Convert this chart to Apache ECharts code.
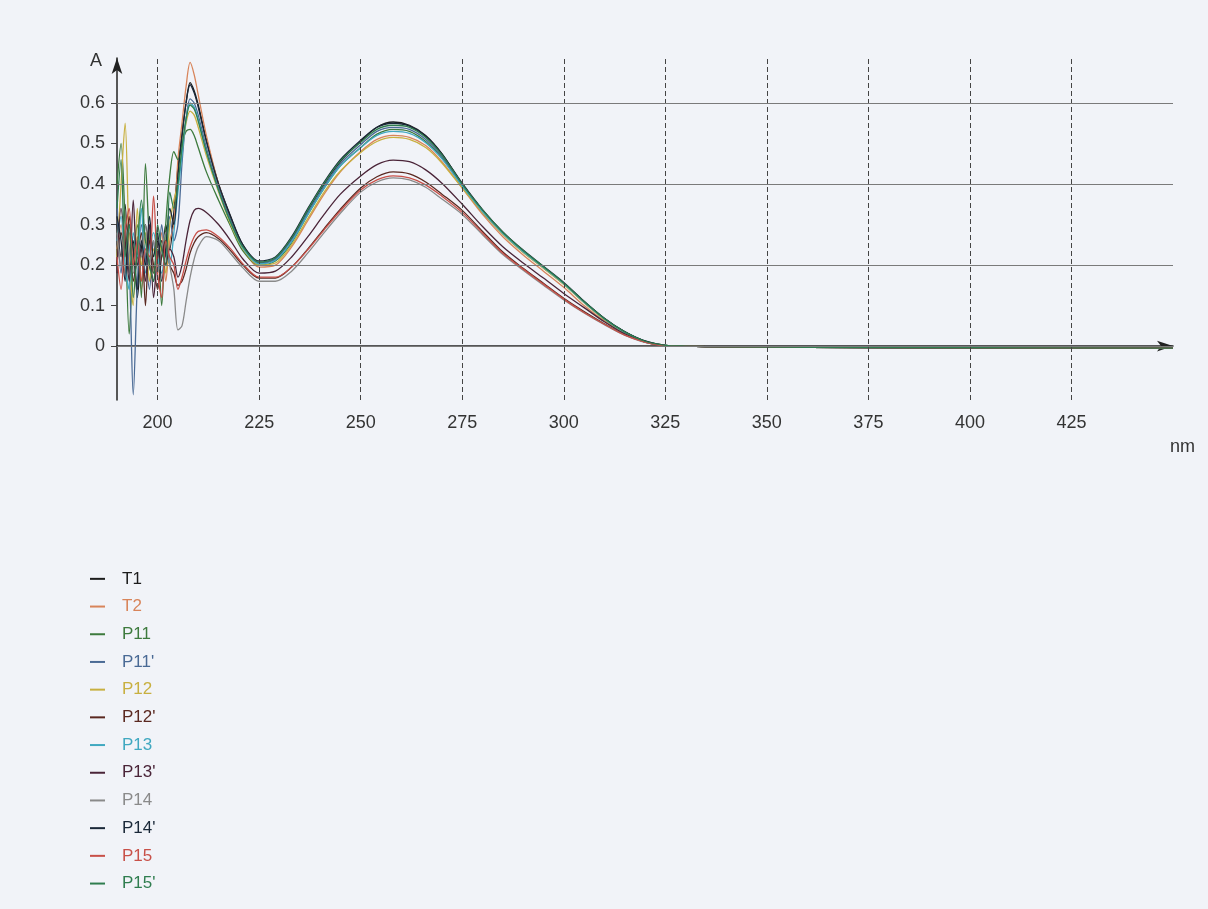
<!DOCTYPE html>
<html>
<head>
<meta charset="utf-8">
<script src="https://cdn.jsdelivr.net/npm/echarts@6/dist/echarts.min.js"></script>
<style>
  html, body { margin: 0; padding: 0; background: #f1f3f8; }
  #main { width: 1208px; height: 909px; }
</style>
</head>
<body>
<div id="main"></div>
<script>
// wavelength (nm) shared by every curve
const wavelength = [190,191,192,193,194,195,196,197,198,199,200,201,202,203,204,205,206,207,208,209,210,
  212,215,218,221,225,229,233,237,241,245,250,254,258,262,266,270,275,280,285,290,295,300,305,310,315,320,325,330,340,360,400,450];

// absorbance
const T1 = [0.30,0.22,0.35,0.18,0.26,0.12,0.24,0.30,0.20,0.16,0.26,0.22,0.30,0.24,0.33,0.44,0.52,0.60,0.65,0.63,0.595,
  0.51,0.40,0.32,0.25,0.205,0.215,0.265,0.335,0.40,0.455,0.505,0.54,0.553,0.545,0.52,0.475,0.40,0.335,0.28,0.235,0.195,0.155,0.11,0.068,0.035,0.012,0.002,0,-0.002,-0.003,-0.004,-0.005];
const T2 = [0.24,0.30,0.18,0.28,0.22,0.27,0.14,0.22,0.30,0.18,0.20,0.28,0.16,0.26,0.30,0.46,0.55,0.64,0.70,0.67,0.62,
  0.52,0.40,0.31,0.24,0.195,0.20,0.245,0.31,0.375,0.43,0.48,0.51,0.52,0.515,0.495,0.455,0.39,0.325,0.27,0.225,0.185,0.145,0.10,0.062,0.032,0.011,0.002,0,-0.002,-0.003,-0.004,-0.005];
const P11 = [0.40,0.50,0.30,0.03,0.22,0.30,0.12,0.45,0.26,0.18,0.24,0.10,0.30,0.42,0.48,0.46,0.50,0.53,0.535,0.52,0.49,
  0.43,0.36,0.295,0.235,0.20,0.21,0.255,0.325,0.39,0.445,0.49,0.523,0.535,0.53,0.505,0.465,0.395,0.33,0.277,0.232,0.193,0.153,0.108,0.066,0.034,0.012,0.002,0,-0.002,-0.003,-0.004,-0.005];
const P11b = [0.36,0.18,0.28,0.20,-0.12,0.15,0.30,0.22,0.14,0.26,0.18,0.30,0.22,0.32,0.26,0.30,0.45,0.56,0.61,0.60,0.57,
  0.49,0.39,0.31,0.245,0.205,0.215,0.262,0.33,0.395,0.45,0.497,0.53,0.54,0.535,0.51,0.468,0.398,0.333,0.279,0.234,0.194,0.154,0.109,0.067,0.035,0.012,0.002,0,-0.002,-0.003,-0.004,-0.005];
const P12 = [0.22,0.40,0.55,0.24,0.10,0.34,0.20,0.28,0.16,0.24,0.20,0.26,0.18,0.30,0.36,0.40,0.48,0.55,0.58,0.57,0.54,
  0.47,0.38,0.30,0.24,0.20,0.205,0.25,0.315,0.38,0.432,0.478,0.505,0.515,0.51,0.49,0.452,0.39,0.33,0.276,0.231,0.192,0.152,0.107,0.066,0.034,0.012,0.002,0,-0.002,-0.003,-0.004,-0.005];
const P12b = [0.20,0.28,0.24,0.32,0.16,0.22,0.28,0.10,0.26,0.20,0.14,0.22,0.26,0.20,0.18,0.15,0.16,0.19,0.23,0.255,0.27,
  0.28,0.265,0.235,0.20,0.168,0.168,0.195,0.24,0.29,0.338,0.39,0.418,0.43,0.425,0.405,0.375,0.335,0.283,0.232,0.192,0.155,0.118,0.085,0.055,0.028,0.01,0.001,0,-0.002,-0.003,-0.004,-0.005];
const P13 = [0.26,0.32,0.20,0.14,0.28,0.22,0.34,0.18,0.24,0.28,0.22,0.18,0.24,0.20,0.28,0.38,0.47,0.56,0.60,0.59,0.56,
  0.48,0.385,0.305,0.242,0.203,0.212,0.258,0.325,0.39,0.445,0.49,0.52,0.53,0.525,0.502,0.462,0.395,0.332,0.278,0.233,0.194,0.154,0.108,0.067,0.034,0.012,0.002,0,-0.002,-0.003,-0.004,-0.005];
const P13b = [0.18,0.34,0.26,0.16,0.36,0.20,0.24,0.16,0.30,0.12,0.22,0.26,0.20,0.24,0.22,0.17,0.20,0.26,0.31,0.335,0.34,
  0.33,0.30,0.26,0.215,0.18,0.185,0.22,0.27,0.325,0.375,0.42,0.448,0.459,0.455,0.435,0.402,0.35,0.295,0.245,0.205,0.168,0.13,0.095,0.06,0.03,0.01,0.001,0,-0.002,-0.003,-0.004,-0.005];
const P14 = [0.28,0.20,0.30,0.24,0.18,0.26,0.22,0.30,0.20,0.26,0.18,0.24,0.28,0.20,0.14,0.04,0.05,0.11,0.17,0.215,0.245,
  0.27,0.26,0.228,0.193,0.16,0.16,0.185,0.23,0.28,0.328,0.38,0.405,0.415,0.41,0.392,0.363,0.325,0.275,0.226,0.187,0.15,0.114,0.082,0.053,0.027,0.009,0.001,0,-0.002,-0.003,-0.004,-0.005];
const P14b = [0.32,0.26,0.16,0.30,0.24,0.14,0.26,0.20,0.32,0.22,0.28,0.16,0.24,0.34,0.30,0.42,0.52,0.60,0.645,0.625,0.59,
  0.505,0.40,0.318,0.25,0.21,0.22,0.27,0.34,0.405,0.46,0.508,0.54,0.55,0.543,0.518,0.474,0.402,0.337,0.282,0.237,0.197,0.157,0.111,0.069,0.036,0.013,0.002,0,-0.002,-0.003,-0.004,-0.005];
const P15 = [0.22,0.14,0.28,0.34,0.20,0.26,0.16,0.24,0.22,0.37,0.18,0.12,0.26,0.22,0.20,0.14,0.17,0.21,0.245,0.27,0.283,
  0.287,0.27,0.24,0.203,0.17,0.17,0.195,0.238,0.287,0.334,0.385,0.41,0.42,0.415,0.398,0.37,0.33,0.279,0.229,0.19,0.153,0.116,0.083,0.054,0.027,0.01,0.001,0,-0.002,-0.003,-0.004,-0.005];
const P15b = [0.34,0.46,0.22,0.30,0.12,0.24,0.36,0.26,0.20,0.16,0.30,0.24,0.20,0.38,0.34,0.40,0.49,0.56,0.595,0.585,0.555,
  0.48,0.385,0.305,0.245,0.207,0.218,0.267,0.337,0.402,0.457,0.503,0.535,0.545,0.54,0.515,0.472,0.40,0.336,0.281,0.236,0.196,0.156,0.11,0.068,0.035,0.012,0.002,0,-0.002,-0.003,-0.004,-0.005];

const names = ['T1', 'T2', 'P11', "P11'", 'P12', "P12'", 'P13', "P13'", 'P14', "P14'", 'P15', "P15'"];
const values = [T1, T2, P11, P11b, P12, P12b, P13, P13b, P14, P14b, P15, P15b];
const colors = ['#1c1c1c', '#d8845a', '#3d7a3d', '#4a6a95', '#c8b040', '#5a2820',
                '#40a8c0', '#4a2438', '#8a8a8a', '#1a2838', '#c85048', '#2f7d4f'];

const xTicks = [200, 225, 250, 275, 300, 325, 350, 375, 400, 425];
const yTicks = [0, 0.1, 0.2, 0.3, 0.4, 0.5, 0.6];
const yGrid = [0, 0.2, 0.4, 0.6];

var myChart = echarts.init(document.getElementById('main'));

var series = names.map(function (n, i) {
  return {
    name: n,
    type: 'line',
    showSymbol: false,
    smooth: 0.3,
    z: 3,
    lineStyle: { width: 1.3, color: colors[i] },
    itemStyle: { color: colors[i] },
    data: wavelength.map(function (w, k) { return [w, values[i][k]]; })
  };
});

// grid lines (dashed verticals, solid horizontals)
series.unshift({
  name: 'grid',
  type: 'line',
  data: [],
  z: 1,
  markLine: {
    silent: true,
    symbol: ['none', 'none'],
    label: { show: false },
    animation: false,
    data: xTicks.map(function (v) {
      return { xAxis: v, lineStyle: { color: '#444', width: 1, type: [5, 3] } };
    }).concat(yGrid.map(function (v) {
      return { yAxis: v, lineStyle: { color: '#7a7a7a', width: 1.2, type: 'solid' } };
    }))
  }
});

var option = {
  backgroundColor: '#f1f3f8',
  animation: false,
  textStyle: { fontFamily: 'Liberation Sans, Arial, sans-serif' },
  grid: { left: 117, top: 58, width: 1056, height: 342, containLabel: false },
  xAxis: {
    type: 'value',
    min: 190,
    max: 450,
    axisLine: { show: true, symbol: ['none', 'arrow'], symbolSize: [8, 16], lineStyle: { color: '#222', width: 1.5 } },
    axisTick: { show: false, customValues: xTicks },
    axisLabel: { customValues: xTicks, color: '#333', fontSize: 18, margin: 14 },
    splitLine: { show: false }
  },
  yAxis: {
    type: 'value',
    min: -0.133,
    max: 0.711,
    axisLine: { show: true, symbol: ['none', 'arrow'], symbolSize: [8, 16], lineStyle: { color: '#222', width: 1.5 } },
    axisTick: { show: true, customValues: yTicks, length: 6, lineStyle: { color: '#444' } },
    axisLabel: { customValues: yTicks, color: '#333', fontSize: 18, margin: 12 },
    splitLine: { show: false }
  },
  legend: {
    orient: 'vertical',
    left: 90,
    top: 565,
    height: 345,
    padding: 0,
    itemWidth: 15,
    itemHeight: 2,
    itemGap: 0,
    icon: 'rect',
    textStyle: { fontSize: 17, lineHeight: 27.7, padding: [0, 0, 0, 12] },
    data: names.map(function (n, i) {
      return { name: n, itemStyle: { color: colors[i] }, textStyle: { color: colors[i] } };
    })
  },
  graphic: [
    { type: 'text', left: 90, top: 52, style: { text: 'A', fontSize: 18, fill: '#333', fontFamily: 'Liberation Sans' } },
    { type: 'text', left: 1170, top: 438, style: { text: 'nm', fontSize: 18, fill: '#333', fontFamily: 'Liberation Sans' } }
  ],
  series: series
};

myChart.setOption(option);
</script>
</body>
</html>
